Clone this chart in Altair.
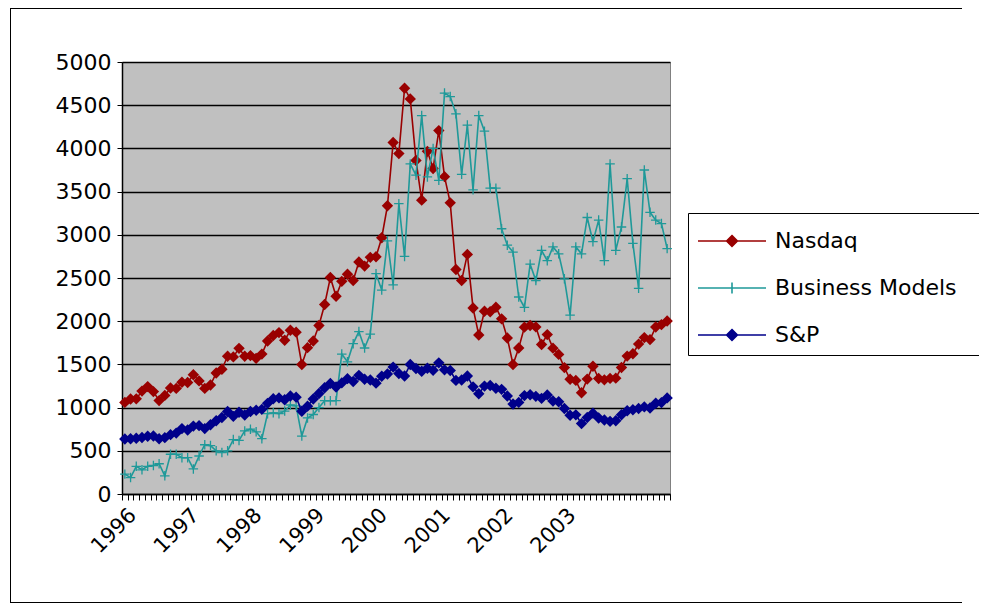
import altair as alt
import pandas as pd

# ---- data (monthly, Jan 1996 .. Dec 2003) ----
series_names = ["Nasdaq", "Business Models", "S&P"]
series_colors = ["#990000", "#1f9999", "#00008b"]

nasdaq = [1060, 1100, 1101, 1191, 1243, 1185, 1081, 1141, 1227, 1222, 1293, 1291,
          1380, 1309, 1222, 1261, 1400, 1443, 1594, 1587, 1686, 1594, 1601, 1570,
          1619, 1771, 1835, 1868, 1779, 1895, 1873, 1499, 1694, 1771, 1950, 2193,
          2505, 2288, 2461, 2543, 2471, 2686, 2638, 2739, 2746, 2966, 3336, 4069,
          3940, 4697, 4573, 3861, 3401, 3966, 3767, 4206, 3673, 3370, 2598, 2471,
          2773, 2152, 1840, 2116, 2110, 2161, 2027, 1805, 1499, 1690, 1931, 1950,
          1934, 1731, 1845, 1688, 1616, 1463, 1328, 1315, 1172, 1330, 1479, 1336,
          1321, 1338, 1341, 1464, 1596, 1623, 1735, 1810, 1787, 1932, 1960, 2003]

business = [230, 190, 320, 280, 320, 330, 350, 210, 460, 460, 420, 420,
            290, 440, 570, 560, 500, 480, 500, 630, 620, 730, 750, 720,
            640, 930, 940, 930, 960, 1030, 1020, 670, 880, 920, 1000, 1080,
            1080, 1080, 1620, 1530, 1740, 1880, 1690, 1850, 2550, 2360, 2930, 2420,
            3360, 2750, 3820, 3690, 4380, 3670, 4000, 3630, 4640, 4600, 4400, 3700,
            4270, 3520, 4380, 4200, 3540, 3540, 3070, 2880, 2800, 2280, 2160, 2660,
            2470, 2820, 2700, 2860, 2780, 2490, 2070, 2860, 2780, 3200, 2920, 3170,
            2700, 3820, 2820, 3090, 3650, 2900, 2380, 3750, 3260, 3170, 3130, 2840]

sp500 = [636, 640, 646, 654, 669, 671, 640, 652, 687, 705, 757, 741,
         786, 791, 757, 801, 848, 885, 954, 899, 947, 915, 955, 970,
         980, 1049, 1102, 1112, 1091, 1134, 1121, 957, 1017, 1099, 1164, 1229,
         1280, 1238, 1286, 1335, 1302, 1373, 1329, 1320, 1283, 1363, 1389, 1469,
         1394, 1366, 1499, 1452, 1421, 1455, 1431, 1518, 1437, 1429, 1315, 1320,
         1366, 1240, 1160, 1249, 1256, 1224, 1211, 1134, 1041, 1060, 1139, 1148,
         1130, 1107, 1147, 1076, 1067, 990, 912, 916, 815, 886, 936, 880,
         856, 841, 848, 917, 964, 975, 990, 1008, 996, 1051, 1058, 1112]

year_labels = ["1996", "1997", "1998", "1999", "2000", "2001", "2002", "2003"]
year_label_idx = [0, 11, 22, 33, 44, 55, 66, 77]
y_ticks = list(range(0, 5001, 500))

rows = []
for name, vals in zip(series_names, [nasdaq, business, sp500]):
    for i, v in enumerate(vals):
        rows.append({"idx": i, "series": name, "value": v})
df = pd.DataFrame(rows)

# label expression built from the tick-label lists
label_expr = "''"
for pos, lab in reversed(list(zip(year_label_idx, year_labels))):
    label_expr = f"datum.value == {pos} ? '{lab}' : ({label_expr})"

FONT = "DejaVu Sans"

x_enc = alt.X(
    "idx:O",
    scale=alt.Scale(type="band", paddingInner=0, paddingOuter=0),
    bandPosition=0.5,
    title=None,
    axis=alt.Axis(
        labelExpr=label_expr, labelAngle=-45, labelOverlap=False,
        tickBand="extent", tickSize=6, tickColor="black", domainColor="black",
        domainWidth=1.5, grid=False, labelPadding=4,
        labelFont=FONT, labelFontSize=21, labelColor="black",
    ),
)
y_enc = alt.Y(
    "value:Q",
    scale=alt.Scale(domain=[0, 5000], nice=False, zero=True),
    title=None,
    axis=alt.Axis(
        values=y_ticks, format="d", grid=True, gridColor="black", gridWidth=1.5,
        tickSize=5, tickColor="black", domainColor="black", domainWidth=1.5,
        labelPadding=6, labelFont=FONT, labelFontSize=22, labelColor="black",
    ),
)

line_path = "M-1,0H2.78"
diamond_path = line_path + "M0.889,-0.3L1.19,0L0.889,0.3L0.589,0Z"
cross_path = line_path + "M0.889,-0.3V0.3"
sym_expr = f"datum.value == 'Business Models' ? '{cross_path}' : '{diamond_path}'"

legend = alt.Legend(
    orient="none", legendX=566, legendY=151,
    title=".", titleOrient="right", titleColor="white", titleFontSize=6,
    titlePadding=14,
    fillColor="white", strokeColor="black", padding=9,
    symbolSize=1296, symbolType=alt.ExprRef(expr=sym_expr),
    symbolFillColor=alt.ExprRef(expr="scale('color', datum.value)"),
    symbolStrokeWidth=1.6, labelOffset=40, rowPadding=17,
    labelFont=FONT, labelFontSize=22, labelColor="black", labelLimit=500,
)

color_scale = alt.Scale(domain=series_names, range=series_colors)

layers = []
cross_shape = "M-1,0H1M0,-1V1"
for k, name in enumerate(series_names):
    col = alt.Color("series:N", scale=color_scale, legend=legend if k == 0 else None)
    ln = alt.Chart(df).mark_line(strokeWidth=1.6).encode(x=x_enc, y=y_enc, color=col).transform_filter(
        alt.datum.series == name)
    if name == "Business Models":
        pt = alt.Chart(df).mark_point(shape=cross_shape, filled=False, size=90, strokeWidth=1.3, opacity=1)
    else:
        pt = alt.Chart(df).mark_point(shape="diamond", filled=True, size=130, opacity=1)
    pt = pt.encode(x=x_enc, y=y_enc,
                   color=alt.Color("series:N", scale=color_scale, legend=None)).transform_filter(
        alt.datum.series == name)
    layers += [ln, pt]

# outer chart-area frame: left, top and bottom edges (right edge lies beyond the page)
frame_df = pd.DataFrame({"f": [0]})
frame_top = alt.Chart(frame_df).mark_rule(color="black", strokeWidth=1).encode(
    x=alt.value(-112), x2=alt.value(840), y=alt.value(-53.5))
frame_bottom = alt.Chart(frame_df).mark_rule(color="black", strokeWidth=1).encode(
    x=alt.value(-112), x2=alt.value(840), y=alt.value(540.5))
frame_left = alt.Chart(frame_df).mark_rule(color="black", strokeWidth=1).encode(
    x=alt.value(-111.5), y=alt.value(-54), y2=alt.value(541))

chart = alt.layer(*layers, frame_top, frame_bottom, frame_left).properties(
    width=548, height=432,
    padding={"left": 114, "top": 54, "right": 309, "bottom": 109},
    autosize=alt.AutoSizeParams(type="none"),
    background="white",
).configure_view(fill="#c0c0c0", stroke="#808080", strokeWidth=1)

chart.save("out.html", embed_options={"renderer": "svg", "actions": False})
